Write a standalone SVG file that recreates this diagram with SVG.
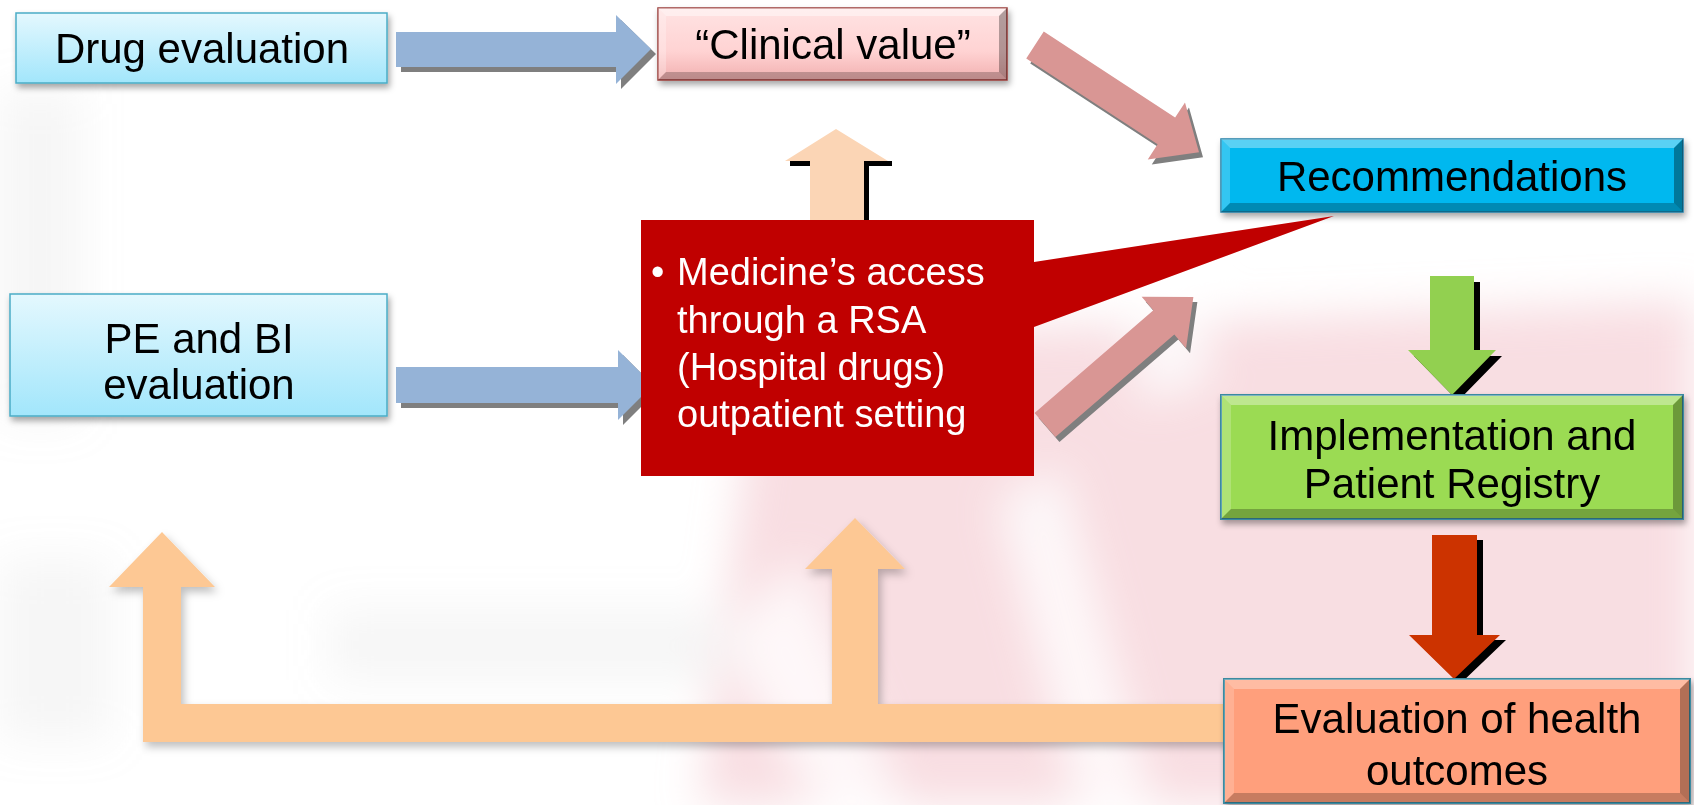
<svg xmlns="http://www.w3.org/2000/svg" width="1694" height="805" viewBox="0 0 1694 805">
  <defs>
    <style>
      .lbl { font-family: "Liberation Sans", Arial, sans-serif; font-size: 42px; fill: #000; text-anchor: middle; }
      .call { font-family: "Liberation Sans", Arial, sans-serif; font-size: 38px; fill: #fff; }
      .hl { fill: #fff; }
      .dk { fill: #000; }
      .blue { fill: #95b3d7; }
      .salmon { fill: #d99694; }
      .gshadow { fill: #7f7f7f; }
      .peach { fill: #fdc894; }
    </style>
    <linearGradient id="gLight" x1="0" y1="0" x2="0" y2="1">
      <stop offset="0" stop-color="#e4f8fe"/>
      <stop offset="1" stop-color="#a2e6fb"/>
    </linearGradient>
    <linearGradient id="gPink" x1="0" y1="0" x2="0" y2="1">
      <stop offset="0" stop-color="#ffe3e3"/>
      <stop offset="0.6" stop-color="#ffd3d3"/>
      <stop offset="1" stop-color="#f2b0b0"/>
    </linearGradient>
    <filter id="boxShadow" x="-5%" y="-20%" width="110%" height="150%">
      <feDropShadow dx="2" dy="4" stdDeviation="3" flood-color="#000" flood-opacity="0.35"/>
    </filter>
    <filter id="softShadow" x="-5%" y="-10%" width="110%" height="130%">
      <feDropShadow dx="3" dy="5" stdDeviation="4" flood-color="#000" flood-opacity="0.25"/>
    </filter>
    <filter id="haze" x="-20%" y="-20%" width="140%" height="140%">
      <feGaussianBlur stdDeviation="22"/>
    </filter>
    <path id="diagArrow" d="M0,-16 L157,-16 L157,-34 L196,0 L157,34 L157,16 L0,16 Z"/>
  </defs>

  <rect width="1694" height="805" fill="#ffffff"/>

  <!-- faded backdrop behind the flow -->
  <g id="backdrop" filter="url(#haze)">
    <g fill="#f2c3ca" opacity="0.55">
      <polygon points="760,340 1694,300 1694,805 700,805"/>
    </g>
    <g fill="#ffffff" opacity="0.8">
      <polygon points="720,640 800,560 900,805 820,805"/>
      <polygon points="1000,500 1060,470 1150,805 1080,805"/>
      <polygon points="1130,300 1200,290 1210,380 1140,400"/>
    </g>
    <g fill="#c8c8c8" opacity="0.16">
      <rect x="0" y="90" width="80" height="330"/>
      <rect x="0" y="560" width="110" height="180"/>
      <rect x="330" y="610" width="400" height="70"/>
    </g>
  </g>

  <g id="connectors">
    <!-- Drug evaluation to Clinical value -->
    <path class="gshadow" transform="translate(5,5)" d="M396,32 L616,32 L616,15 L651,49 L616,84 L616,67 L396,67 Z"/>
    <path class="blue" d="M396,32 L616,32 L616,15 L651,49 L616,84 L616,67 L396,67 Z"/>

    <!-- PE and BI evaluation to the RSA callout -->
    <path class="gshadow" transform="translate(5,5)" d="M396,367 L618,367 L618,350 L653,385 L618,420 L618,403 L396,403 Z"/>
    <path class="blue" d="M396,367 L618,367 L618,350 L653,385 L618,420 L618,403 L396,403 Z"/>

    <!-- Clinical value to Recommendations -->
    <g transform="translate(4,5)"><use href="#diagArrow" class="gshadow" transform="translate(1035,45) rotate(33.2)"/></g>
    <use href="#diagArrow" class="salmon" transform="translate(1035,45) rotate(33.2)"/>

    <!-- RSA callout to Recommendations -->
    <g transform="translate(4,5)"><use href="#diagArrow" class="gshadow" transform="translate(1045,425) rotate(-40.8)"/></g>
    <use href="#diagArrow" class="salmon" transform="translate(1045,425) rotate(-40.8)"/>

    <!-- RSA callout up to Clinical value -->
    <path class="dk" d="M790,161 L892,161 L892,166 L869,166 L869,221 L815,221 L815,166 L790,166 Z"/>
    <path fill="#fbd5b5" d="M810,221 L810,161 L785,161 L836,129 L888,161 L864,161 L864,221 Z"/>

    <!-- Recommendations to Implementation -->
    <path class="dk" transform="translate(6,6)" d="M1430,276 L1474,276 L1474,350 L1496,350 L1452,395 L1408,350 L1430,350 Z"/>
    <path fill="#92d050" d="M1430,276 L1474,276 L1474,350 L1496,350 L1452,395 L1408,350 L1430,350 Z"/>

    <!-- Implementation to Evaluation of health outcomes -->
    <path class="dk" transform="translate(6,5)" d="M1432,535 L1477,535 L1477,635 L1500,635 L1454,679 L1409,635 L1432,635 Z"/>
    <path fill="#cc3300" d="M1432,535 L1477,535 L1477,635 L1500,635 L1454,679 L1409,635 L1432,635 Z"/>

    <!-- feedback from outcomes to the evaluations -->
    <path class="peach" filter="url(#softShadow)" d="M143,742 L143,587 L109,587 L162,532 L215,587 L181,587 L181,704 L832,704 L832,569 L805,569 L855,518 L905,569 L878,569 L878,704 L1226,704 L1226,742 Z"/>
  </g>

  <g id="drug-evaluation">
    <rect x="16" y="13" width="371" height="70" fill="url(#gLight)" stroke="#4bacc6" stroke-width="1.5" filter="url(#boxShadow)"/>
    <text class="lbl" x="202" y="63">Drug evaluation</text>
  </g>

  <g id="pe-bi-evaluation">
    <rect x="10" y="294" width="377" height="122" fill="url(#gLight)" stroke="#4bacc6" stroke-width="1.5" filter="url(#boxShadow)"/>
    <text class="lbl" x="199" y="353">PE and BI</text>
    <text class="lbl" x="199" y="399">evaluation</text>
  </g>

  <g id="clinical-value">
    <rect x="658" y="8" width="349" height="72" fill="url(#gPink)" stroke="#9b3c3a" stroke-width="1.5" filter="url(#boxShadow)"/>
    <polygon class="hl" opacity="0.45" points="658,8 1007,8 999,16 666,16"/>
    <polygon class="hl" opacity="0.25" points="658,8 666,16 666,72 658,80"/>
    <polygon class="dk" opacity="0.22" points="658,80 666,72 999,72 1007,80"/>
    <polygon class="dk" opacity="0.3" points="1007,8 1007,80 999,72 999,16"/>
    <text class="lbl" x="833" y="59">“Clinical value”</text>
  </g>

  <g id="recommendations">
    <rect x="1221" y="139" width="462" height="73" fill="#00b8ef" stroke="#1f7fa6" stroke-width="1.5" filter="url(#boxShadow)"/>
    <polygon class="hl" opacity="0.35" points="1221,139 1683,139 1674,148 1230,148"/>
    <polygon class="hl" opacity="0.2" points="1221,139 1230,148 1230,203 1221,212"/>
    <polygon class="dk" opacity="0.25" points="1221,212 1230,203 1674,203 1683,212"/>
    <polygon class="dk" opacity="0.35" points="1683,139 1683,212 1674,203 1674,148"/>
    <text class="lbl" x="1452" y="191">Recommendations</text>
  </g>

  <g id="rsa-callout">
    <polygon fill="#c00000" points="641,220 1034,220 1034,262 1334,216 1034,327 1034,476 641,476"/>
    <text class="call" x="651" y="285">•</text>
    <text class="call" x="677" y="285">Medicine’s access</text>
    <text class="call" x="677" y="333">through a RSA</text>
    <text class="call" x="677" y="380">(Hospital drugs)</text>
    <text class="call" x="677" y="427">outpatient setting</text>
  </g>

  <g id="implementation">
    <rect x="1221" y="395" width="462" height="124" fill="#9bdb52" stroke="#3a8aa0" stroke-width="2" filter="url(#boxShadow)"/>
    <polygon class="hl" opacity="0.35" points="1221,395 1683,395 1673,405 1231,405"/>
    <polygon class="hl" opacity="0.2" points="1221,395 1231,405 1231,509 1221,519"/>
    <polygon class="dk" opacity="0.25" points="1221,519 1231,509 1673,509 1683,519"/>
    <polygon class="dk" opacity="0.3" points="1683,395 1683,519 1673,509 1673,405"/>
    <text class="lbl" x="1452" y="450">Implementation and</text>
    <text class="lbl" x="1452" y="498">Patient Registry</text>
  </g>

  <g id="health-outcomes">
    <rect x="1224" y="679" width="466" height="124" fill="#ff9f7c" stroke="#3a8aa0" stroke-width="2" filter="url(#boxShadow)"/>
    <polygon class="hl" opacity="0.3" points="1224,679 1690,679 1680,689 1234,689"/>
    <polygon class="hl" opacity="0.18" points="1224,679 1234,689 1234,793 1224,803"/>
    <polygon class="dk" opacity="0.22" points="1224,803 1234,793 1680,793 1690,803"/>
    <polygon class="dk" opacity="0.3" points="1690,679 1690,803 1680,793 1680,689"/>
    <text class="lbl" x="1457" y="733">Evaluation of health</text>
    <text class="lbl" x="1457" y="785">outcomes</text>
  </g>
</svg>
